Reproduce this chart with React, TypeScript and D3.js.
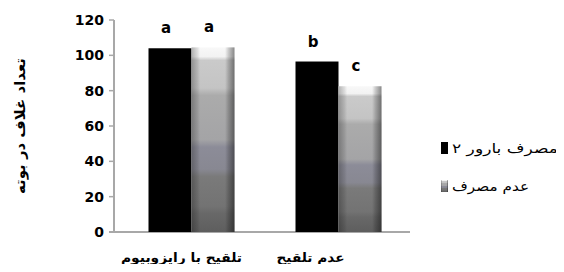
import React from "react";
import * as d3 from "d3";

const categories = ["تلقیح با رایزوبیوم", "عدم تلقیح"];
const seriesNames = ["مصرف بارور ۲", "عدم مصرف"];
const barvarValues = [104, 96.5];
const noUseValues = [104.5, 82.5];
const barvarLetters = ["a", "b"];
const noUseLetters = ["a", "c"];
const yTicks = [0, 20, 40, 60, 80, 100, 120];
const yTitle = "تعداد غلاف در بوته";

const W = 564;
const H = 272;

export default function App() {
  const y = d3.scaleLinear().domain([0, 120]).range([232, 20]);
  const x = d3.scaleBand<string>().domain(categories).range([118, 412]);
  const bw = x.bandwidth();
  const groupW = 86;
  const sub = d3
    .scaleBand<number>()
    .domain([0, 1])
    .range([(bw - groupW) / 2, (bw + groupW) / 2]);
  const labelDx = [-10, -28];
  const labelLen = [121, 68];
  const legendLen = [106, 77];
  const series = [
    { name: seriesNames[0], values: barvarValues, letters: barvarLetters },
    { name: seriesNames[1], values: noUseValues, letters: noUseLetters },
  ];

  return (
    <div style={{ margin: -8 }}>
      <svg width={W} height={H} style={{ display: "block", background: "#fff" }}>
        <defs>
          <linearGradient id="gv" x1="0" y1="0" x2="0" y2="1">
            <stop offset="0" stopColor="#f8f8f8" />
            <stop offset="0.05" stopColor="#f2f2f2" />
            <stop offset="0.07" stopColor="#cacaca" />
            <stop offset="0.22" stopColor="#c4c4c4" />
            <stop offset="0.26" stopColor="#ababab" />
            <stop offset="0.5" stopColor="#a4a4a6" />
            <stop offset="0.54" stopColor="#8c8c98" />
            <stop offset="0.66" stopColor="#888892" />
            <stop offset="0.7" stopColor="#7a7a7a" />
            <stop offset="0.86" stopColor="#737373" />
            <stop offset="0.9" stopColor="#686868" />
            <stop offset="1" stopColor="#5e5e5e" />
          </linearGradient>
          <linearGradient id="gh" x1="0" y1="0" x2="1" y2="0">
            <stop offset="0" stopColor="#000" stopOpacity="0.28" />
            <stop offset="0.14" stopColor="#000" stopOpacity="0.1" />
            <stop offset="0.2" stopColor="#000" stopOpacity="0" />
            <stop offset="0.78" stopColor="#000" stopOpacity="0" />
            <stop offset="0.86" stopColor="#000" stopOpacity="0.18" />
            <stop offset="1" stopColor="#000" stopOpacity="0.45" />
          </linearGradient>
        </defs>

        {/* axes */}
        <line x1={114} x2={114} y1={y(120)} y2={y(0)} stroke="#a8a8a8" strokeWidth={2} />
        <line x1={109} x2={410} y1={y(0)} y2={y(0)} stroke="#a8a8a8" strokeWidth={2} />
        {yTicks.map((t) => (
          <g key={t}>
            <line x1={109} x2={114} y1={y(t)} y2={y(t)} stroke="#a8a8a8" strokeWidth={1.5} />
            <text
              x={104}
              y={y(t) + 5}
              textAnchor="end"
              fontFamily="DejaVu Sans"
              fontWeight="bold"
              fontSize={14}
              fill="#000"
            >
              {t}
            </text>
          </g>
        ))}

        {/* bars */}
        {categories.map((c, ci) => (
          <g key={c} transform={`translate(${x(c)},0)`}>
            {series.map((s, si) => {
              const bx = sub(si)!;
              const w = sub.bandwidth();
              const top = y(s.values[ci]);
              const h = y(0) - top;
              return (
                <g key={si}>
                  {si === 0 ? (
                    <rect x={bx} y={top} width={w} height={h} fill="#000" />
                  ) : (
                    <>
                      <rect x={bx} y={top} width={w} height={h} fill="url(#gv)" />
                      <rect x={bx} y={top} width={w} height={h} fill="url(#gh)" />
                    </>
                  )}
                  <text
                    x={bx + w / 2 - 4}
                    y={top - 15}
                    textAnchor="middle"
                    fontFamily="DejaVu Sans"
                    fontWeight="bold"
                    fontSize={15}
                    fill="#000"
                  >
                    {s.letters[ci]}
                  </text>
                </g>
              );
            })}
          </g>
        ))}

        {/* category labels */}
        {categories.map((c, ci) => (
          <text
            key={c}
            x={x(c)! + bw / 2 + labelDx[ci]}
            y={262}
            textAnchor="middle"
            fontFamily="DejaVu Sans"
            fontWeight="bold"
            fontSize={13}
            textLength={labelLen[ci]}
            lengthAdjust="spacingAndGlyphs"
            fill="#000"
          >
            {c}
          </text>
        ))}

        {/* y title */}
        <text
          transform={`translate(25,${126}) rotate(-90)`}
          textAnchor="middle"
          fontFamily="DejaVu Sans"
          fontWeight="bold"
          fontSize={14}
          textLength={136}
          lengthAdjust="spacingAndGlyphs"
          fill="#000"
        >
          {yTitle}
        </text>

        {/* legend */}
        {series.map((s, si) => (
          <g key={s.name} transform={`translate(441,${142 + si * 38})`}>
            <rect x={0} y={0} width={7} height={12} fill={si === 0 ? "#000" : "url(#gv)"} />
            {si === 1 && <rect x={0} y={0} width={7} height={12} fill="url(#gh)" />}
            <text
              x={11}
              y={11}
              textAnchor="start"
              fontFamily="DejaVu Sans"
              fontSize={13}
              textLength={legendLen[si]}
              lengthAdjust="spacingAndGlyphs"
              fill="#000"
            >
              {s.name}
            </text>
          </g>
        ))}
      </svg>
    </div>
  );
}
